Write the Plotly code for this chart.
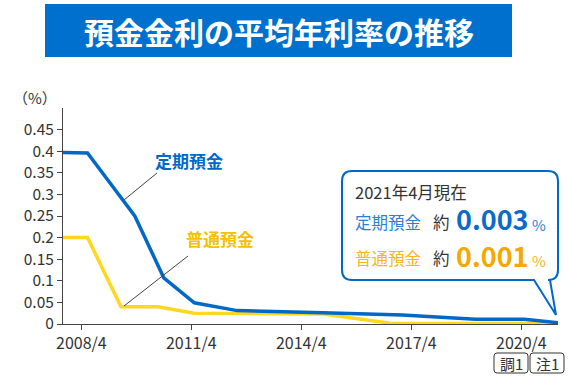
import plotly.graph_objects as go

# ---- data ----
teiki_dates = ["2007-10-01", "2008-06-01", "2009-09-15", "2010-07-01", "2011-05-01",
               "2012-07-01", "2014-11-01", "2017-01-01", "2019-01-01", "2020-05-01", "2021-04-01"]
teiki_vals = [0.397, 0.396, 0.25, 0.107, 0.049, 0.031, 0.026, 0.021, 0.011, 0.011, 0.003]

futsu_dates = ["2007-10-01", "2008-06-01", "2009-05-01", "2010-05-01", "2011-05-01",
               "2012-07-01", "2014-11-01", "2016-09-01", "2021-04-01"]
futsu_vals = [0.2, 0.2, 0.04, 0.04, 0.025, 0.024, 0.023, 0.002, 0.001]

x_tick_vals = ["2008-04-01", "2011-04-01", "2014-04-01", "2017-04-01", "2020-04-01"]
x_tick_text = ["2008/4", "2011/4", "2014/4", "2017/4", "2020/4"]
y_tick_vals = [0, 0.05, 0.1, 0.15, 0.2, 0.25, 0.3, 0.35, 0.4, 0.45]
y_tick_text = ["0", "0.05", "0.1", "0.15", "0.2", "0.25", "0.3", "0.35", "0.4", "0.45"]

# ---- layout geometry ----
W, H = 569, 386
L, R, T, B = 63, 558, 108, 324
FONT = "Noto Sans CJK JP"
BLUE = "#0069C8"
YELLOW = "#FFD71E"


def px(x):
    return (x - L) / (R - L)


def py(y):
    return (B - y) / (B - T)


def rrect(x0, y0, x1, y1, r):
    return (f"M {px(x0 + r)},{py(y0)} L {px(x1 - r)},{py(y0)} Q {px(x1)},{py(y0)} {px(x1)},{py(y0 + r)} "
            f"L {px(x1)},{py(y1 - r)} Q {px(x1)},{py(y1)} {px(x1 - r)},{py(y1)} "
            f"L {px(x0 + r)},{py(y1)} Q {px(x0)},{py(y1)} {px(x0)},{py(y1 - r)} "
            f"L {px(x0)},{py(y0 + r)} Q {px(x0)},{py(y0)} {px(x0 + r)},{py(y0)} Z")


fig = go.Figure()
fig.add_trace(go.Scatter(x=futsu_dates, y=futsu_vals, mode="lines",
                         line=dict(color=YELLOW, width=3.5), hoverinfo="skip"))
fig.add_trace(go.Scatter(x=teiki_dates, y=teiki_vals, mode="lines",
                         line=dict(color=BLUE, width=3.5), hoverinfo="skip"))

shapes = []
# title box
shapes.append(dict(type="rect", xref="paper", yref="paper", x0=px(45), x1=px(512), y0=py(57), y1=py(4),
                   fillcolor="#0070CE", line=dict(width=0), layer="below"))
# leader lines
shapes.append(dict(type="line", xref="paper", yref="paper", x0=px(157), y0=py(173), x1=px(124), y1=py(200),
                   line=dict(color="#444", width=1)))
shapes.append(dict(type="line", xref="paper", yref="paper", x0=px(188), y0=py(256), x1=px(124), y1=py(306),
                   line=dict(color="#444", width=1)))
# callout
cx0, cy0, cx1, cy1, r = 342, 171, 558, 280, 10
callout = (f"M {px(cx0 + r)},{py(cy0)} L {px(cx1 - r)},{py(cy0)} Q {px(cx1)},{py(cy0)} {px(cx1)},{py(cy0 + r)} "
           f"L {px(cx1)},{py(cy1 - r)} Q {px(cx1)},{py(cy1)} {px(cx1 - r)},{py(cy1)} "
           f"L {px(550)},{py(cy1)} L {px(556)},{py(315)} L {px(534)},{py(cy1)} "
           f"L {px(cx0 + r)},{py(cy1)} Q {px(cx0)},{py(cy1)} {px(cx0)},{py(cy1 - r)} "
           f"L {px(cx0)},{py(cy0 + r)} Q {px(cx0)},{py(cy0)} {px(cx0 + r)},{py(cy0)} Z")
shapes.append(dict(type="path", xref="paper", yref="paper", path=callout, fillcolor="white",
                   line=dict(color=BLUE, width=2), layer="above"))
# small note boxes
shapes.append(dict(type="path", xref="paper", yref="paper", path=rrect(494, 353, 528, 373, 3),
                   fillcolor="white", line=dict(color="#333", width=1)))
shapes.append(dict(type="path", xref="paper", yref="paper", path=rrect(530, 353, 564, 373, 3),
                   fillcolor="white", line=dict(color="#333", width=1)))

ann = []


def text(x, y, s, size, color, bold=False, xanchor="center"):
    if bold:
        s = f"<b>{s}</b>"
    ann.append(dict(xref="paper", yref="paper", x=px(x), y=py(y), text=s, showarrow=False,
                    xanchor=xanchor, yanchor="middle", font=dict(family=FONT, size=size, color=color)))


text(278.5, 30.5, "預金金利の平均年利率の推移", 30, "white", bold=True)
text(35, 97, "（%）", 15, "#333")
text(189, 160, "定期預金", 17, BLUE, bold=True)
text(220, 239, "普通預金", 17, "#F2C200", bold=True)

text(353, 192, "2021年4月現在", 16.5, "#333", xanchor="left")
text(353, 222, "定期預金", 16.5, "#2A7FD4", xanchor="left")
text(431, 222, "約", 16.5, "#333", xanchor="left")
text(454, 218, "0.003", 27, "#0A6BCB", bold=True, xanchor="left")
text(530, 224, "%", 15, "#2A7FD4", xanchor="left")
text(353, 258, "普通預金", 16.5, "#F6B61E", xanchor="left")
text(431, 258, "約", 16.5, "#333", xanchor="left")
text(454, 255, "0.001", 27, "#F5A800", bold=True, xanchor="left")
text(530, 260, "%", 15, "#F6B61E", xanchor="left")

text(511, 363, "調1", 15, "#333")
text(547, 363, "注1", 15, "#333")

fig.update_layout(
    width=W, height=H,
    margin=dict(l=L, r=W - R, t=T, b=H - B, pad=0),
    paper_bgcolor="white", plot_bgcolor="white",
    showlegend=False,
    font=dict(family=FONT, size=16, color="#333"),
    shapes=shapes, annotations=ann,
    xaxis=dict(type="date", range=["2007-10-01", "2021-04-01"], tickvals=x_tick_vals, ticktext=x_tick_text,
               ticks="outside", ticklen=5, tickcolor="#444", showline=True, linecolor="#444", linewidth=1,
               showgrid=False, zeroline=False, tickfont=dict(size=16, color="#333")),
    yaxis=dict(range=[0, 0.5], tickvals=y_tick_vals, ticktext=y_tick_text,
               ticks="outside", ticklen=5, tickcolor="#444", showline=True, linecolor="#444", linewidth=1,
               showgrid=False, zeroline=False, tickfont=dict(size=15.5, color="#333")),
)

fig.write_html("out.html", config={"displayModeBar": False},
               post_script="document.body.style.margin='0';document.body.style.overflow='hidden';")
